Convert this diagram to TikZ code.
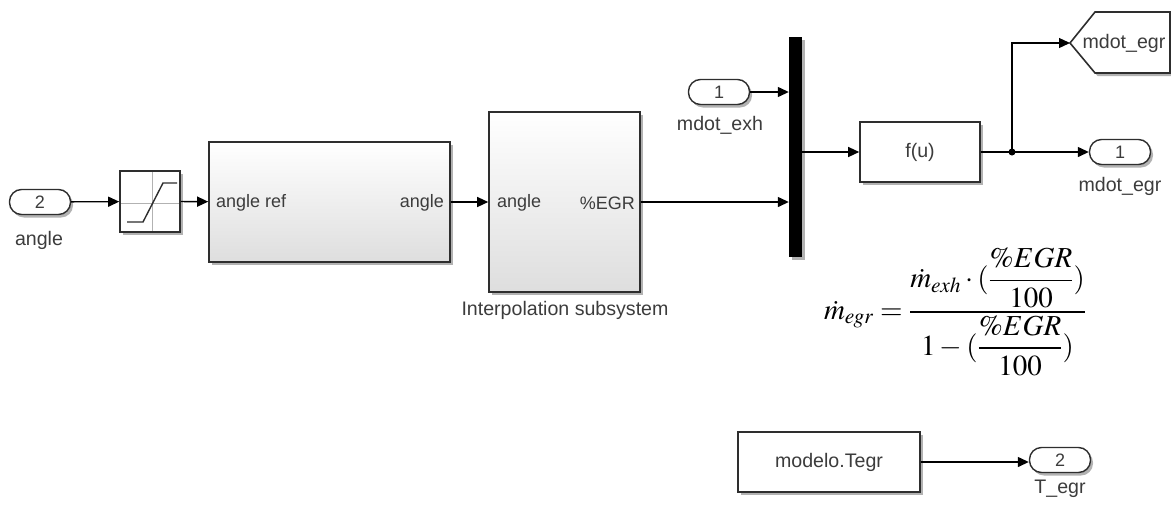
\documentclass[tikz,border=0pt]{standalone}
\usepackage{amsmath}
\usepackage{mathptmx}
\usepackage{fontspec}
\setmainfont{Liberation Sans}
\usetikzlibrary{arrows.meta,shadows}
\definecolor{ink}{HTML}{2E2E2E}
\definecolor{txt}{HTML}{3C3C3C}
\tikzset{
  shd/.style={drop shadow={shadow xshift=2.5pt, shadow yshift=-3pt, opacity=0.3, fill=black}},
  blk/.style={draw=ink, line width=1.6pt, fill=white, inner sep=0pt, shd,
    text=txt, font=\fontsize{19.6}{22}\selectfont},
  sub/.style={blk, top color=white, bottom color=black!13},
  port/.style={draw=ink, line width=1.4pt, rounded corners=12pt, fill=white,
    minimum width=61pt, minimum height=25pt, inner sep=0pt, shd,
    text=txt, font=\fontsize{18}{20}\selectfont},
  lbl/.style={text=txt, inner sep=0pt, font=\fontsize{19.6}{22}\selectfont},
  plbl/.style={text=txt, inner sep=0pt, font=\fontsize{18}{20}\selectfont},
  wire/.style={draw=black, line width=1.3pt, -{Triangle[length=11pt,width=10pt]}},
}
\begin{document}
\begin{tikzpicture}[x=1pt,y=-1pt]
\useasboundingbox (0,0) rectangle (1171,504);

% inport "angle" and saturation
\node[port] (in2) at (40,202) {2};
\node[lbl] (in2lbl) at (39,240) {angle};
\node[blk, minimum width=60pt, minimum height=61pt] (sat) at (150,201.5) {};
\draw[black!30, line width=1pt] (152,172) -- (152,231) (121,203) -- (179,203);
\draw[ink, line width=1.4pt] (127,222) -- (143,222) -- (163,183) -- (177,183);

% angle reference subsystem
\node[sub, minimum width=241pt, minimum height=120pt] (ref) at (329.5,202) {};
\node[plbl, anchor=west] (refin) at (216,203) {angle ref};
\node[plbl, anchor=east] (refout) at (444,203) {angle};

% interpolation subsystem
\node[sub, minimum width=151pt, minimum height=180pt] (interp) at (564.5,202) {};
\node[plbl, anchor=west] (interpin) at (497,203) {angle};
\node[plbl, anchor=east] (interpout) at (635,203) {\%EGR};
\node[lbl] (interplbl) at (565,310) {Interpolation subsystem};

% mux and inport "mdot_exh"
\node[fill=black, minimum width=13pt, minimum height=220pt, inner sep=0pt, shd] (mux) at (795.5,147) {};
\node[port] (in1) at (719,92) {1};
\node[lbl] (in1lbl) at (720,125) {mdot\_exh};

% fcn block, outputs
\node[blk, minimum width=120pt, minimum height=60pt] (fu) at (920,152) {f(u)};
\node[port] (out1) at (1120,152) {1};
\node[lbl] (out1lbl) at (1120,186) {mdot\_egr};
\filldraw[draw=ink, fill=white, line width=1.6pt, shd]
  (1070,43) -- (1095,12) -- (1170,12) -- (1170,73) -- (1095,73) -- cycle;
\coordinate (gototip) at (1070,43);
\node[lbl] (goto) at (1124,43) {mdot\_egr};
\coordinate (j) at (1012,152);

% constant and second output
\node[blk, minimum width=182pt, minimum height=60pt] (tegr) at (829,462) {modelo.Tegr};
\node[port] (out2) at (1060,460) {2};
\node[lbl] (out2lbl) at (1060,489) {T\_egr};

% equation
\node[inner sep=0pt, font=\fontsize{29}{34}\selectfont] (eq) at (955,312)
  {$\dot{m}_{egr}=\dfrac{\dot{m}_{exh}\cdot(\dfrac{\%EGR}{100})}{1-(\dfrac{\%EGR}{100})}$};

% signal lines
\draw[wire] (in2) -- (sat);
\draw[wire] (sat) -- (ref);
\draw[wire] (ref) -- (interp);
\draw[wire] (interp.east) -- (interp.east -| mux.west);
\draw[wire] (in1.east) -- (in1.east -| mux.west);
\draw[wire] (fu.west -| mux.east) -- (fu.west);
\draw[wire] (fu.east) -- (out1.west);
\draw[wire] (j) |- (gototip);
\fill (j) circle (3.5pt);
\draw[wire] (tegr.east) -- (tegr.east -| out2.west);
\end{tikzpicture}
\end{document}
